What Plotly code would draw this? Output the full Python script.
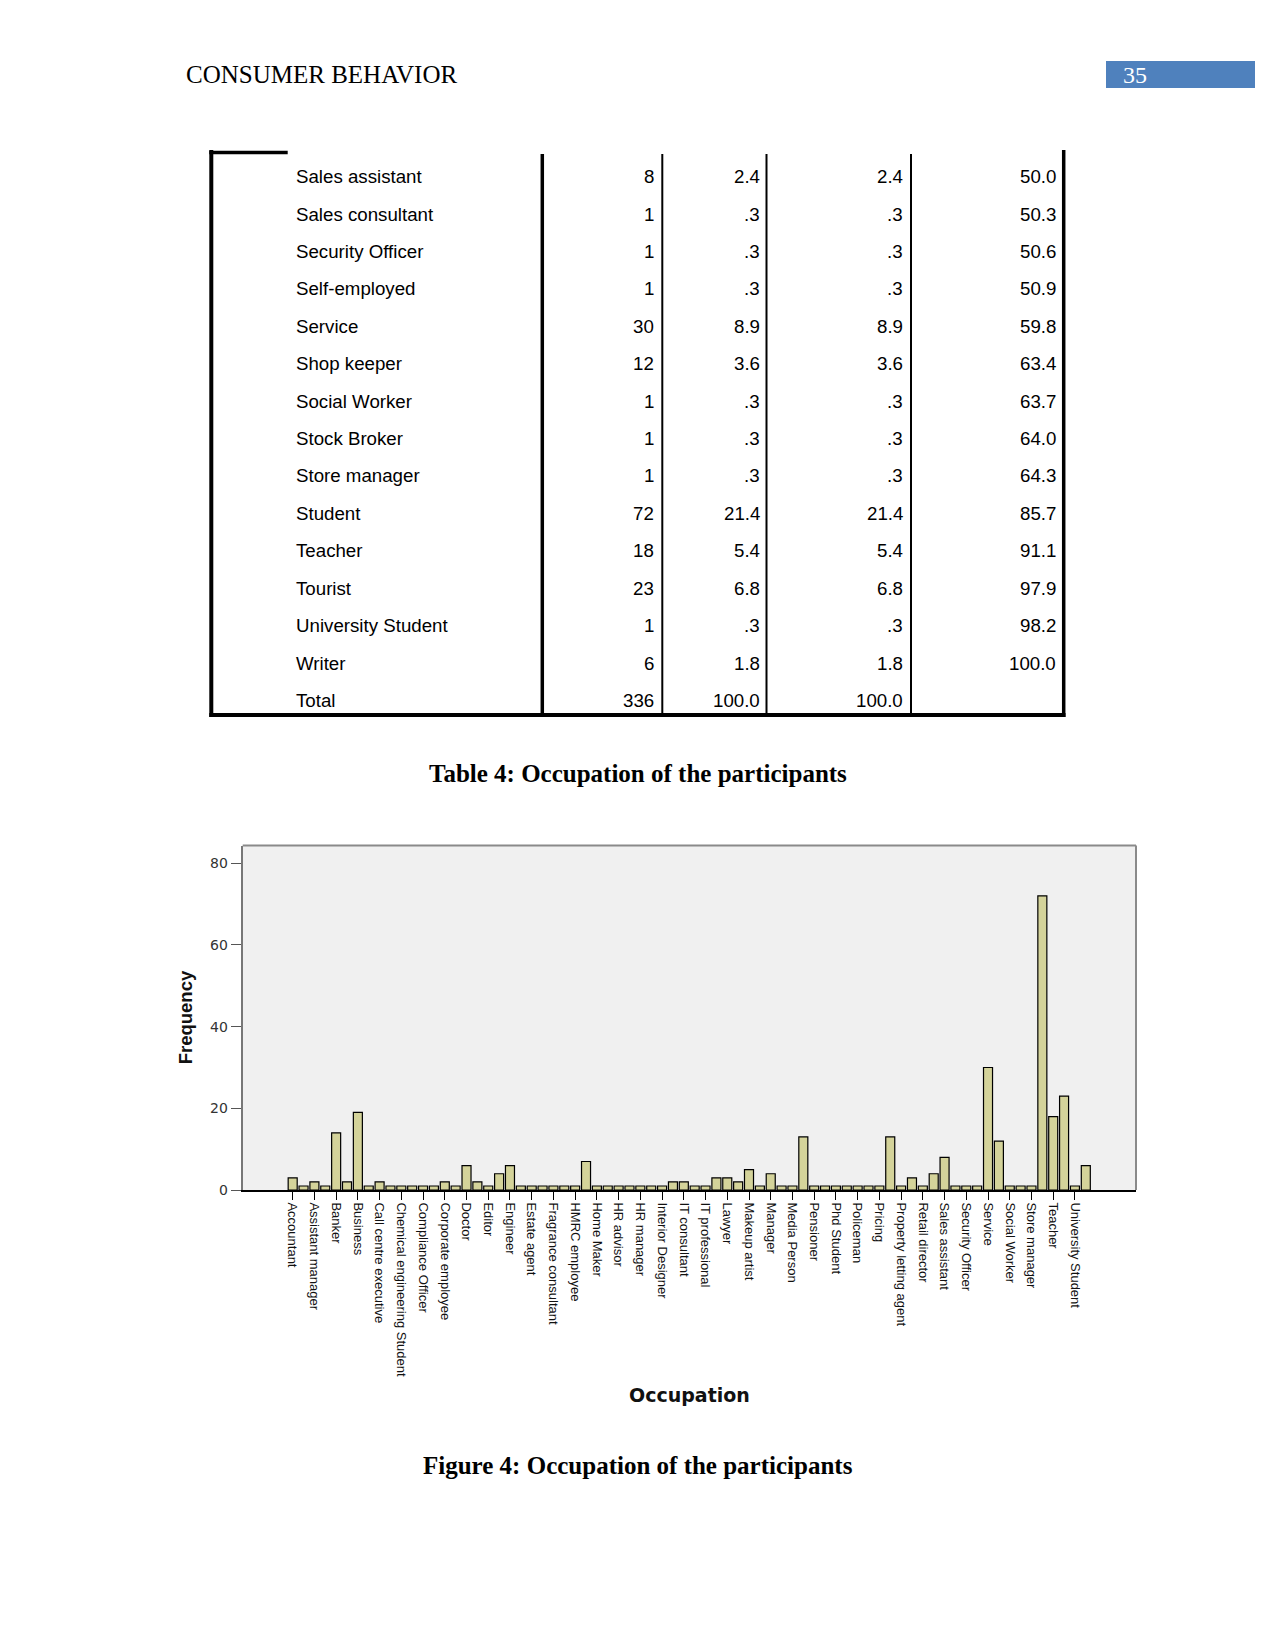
import plotly.graph_objects as go

W, H = 1275, 1650

# ---------------- data ----------------
occupations = [
    "Accountant", "Administrator", "Assistant manager", "Auditor", "Banker",
    "Beautician", "Business", "Cabin crew", "Call centre executive", "Chef",
    "Chemical engineering Student", "Civil servant", "Compliance Officer", "Consultant",
    "Corporate employee", "Designer", "Doctor", "Driver", "Editor", "Electrician",
    "Engineer", "Entrepreneur", "Estate agent", "Finance manager", "Fragrance consultant",
    "Hairdresser", "HMRC employee", "Holiday rep", "Home Maker",
    "Housewife", "HR advisor", "HR assistant", "HR manager", "Insurance agent",
    "Interior Designer", "IT analyst", "IT consultant", "IT engineer", "IT professional",
    "Journalist", "Lawyer", "Lecturer", "Makeup artist", "Management", "Manager",
    "Marketing", "Media Person", "Nurse", "Pensioner", "Pharmacist", "Phd Student",
    "Pilot", "Policeman", "Postman", "Pricing", "Professional", "Property letting agent",
    "Receptionist", "Retail director", "Retired", "Sales assistant", "Sales consultant",
    "Security Officer", "Self-employed", "Service", "Shop keeper", "Social Worker",
    "Stock Broker", "Store manager", "Student", "Teacher", "Tourist",
    "University Student", "Writer",
]
frequency = [
    3, 1, 2, 1, 14, 2, 19, 1, 2, 1,
    1, 1, 1, 1, 2, 1, 6, 2, 1, 4,
    6, 1, 1, 1, 1, 1, 1, 7, 1, 1,
    1, 1, 1, 1, 1, 2, 2, 1, 1, 3,
    3, 2, 5, 1, 4, 1, 1, 13, 1, 1,
    1, 1, 1, 1, 1, 13, 1, 3, 1, 4,
    8, 1, 1, 1, 30, 12, 1, 1, 1, 72,
    18, 23, 1, 6,
]
labelled_occupations = occupations[0::2]
y_ticks = [0, 20, 40, 60, 80]

table_labels = ["Sales assistant", "Sales consultant", "Security Officer", "Self-employed",
                "Service", "Shop keeper", "Social Worker", "Stock Broker", "Store manager",
                "Student", "Teacher", "Tourist", "University Student", "Writer", "Total"]
table_frequency = ["8", "1", "1", "1", "30", "12", "1", "1", "1", "72", "18", "23", "1", "6", "336"]
table_percent = ["2.4", ".3", ".3", ".3", "8.9", "3.6", ".3", ".3", ".3", "21.4", "5.4", "6.8",
                 ".3", "1.8", "100.0"]
table_valid_percent = ["2.4", ".3", ".3", ".3", "8.9", "3.6", ".3", ".3", ".3", "21.4", "5.4",
                       "6.8", ".3", "1.8", "100.0"]
table_cumulative = ["50.0", "50.3", "50.6", "50.9", "59.8", "63.4", "63.7", "64.0", "64.3",
                    "85.7", "91.1", "97.9", "98.2", "100.0", ""]

header_title = "CONSUMER BEHAVIOR"
page_number = "35"
table_caption = "Table 4: Occupation of the participants"
figure_caption = "Figure 4: Occupation of the participants"
x_title = "Occupation"
y_title = "Frequency"

# small vertical correction so the rendered page lines up with the reference
Y_SCALE = 1.0047


# ---------------- helpers ----------------
def px(x):
    return x / W


def py(y):
    return 1 - (y * Y_SCALE) / H


shapes = []
annotations = []


def hline(x0, x1, y, width, color="black"):
    shapes.append(dict(type="line", xref="paper", yref="paper", x0=px(x0), x1=px(x1),
                       y0=py(y), y1=py(y), line=dict(color=color, width=width)))


def vline(x, y0, y1, width, color="black"):
    shapes.append(dict(type="line", xref="paper", yref="paper", x0=px(x), x1=px(x),
                       y0=py(y0), y1=py(y1), line=dict(color=color, width=width)))


def text(x, y, s, size, family="Liberation Sans", color="black", xanchor="left",
         bold=False, angle=0):
    annotations.append(dict(xref="paper", yref="paper", x=px(x), y=py(y),
                            text=f"<b>{s}</b>" if bold else s, showarrow=False,
                            xanchor=xanchor, yanchor="middle", textangle=angle,
                            font=dict(size=size, family=family, color=color)))


# ---------------- header ----------------
text(184, 75, header_title, 25, family="Liberation Serif")
shapes.append(dict(type="rect", xref="paper", yref="paper", x0=px(1106), x1=px(1255),
                   y0=py(61), y1=py(88), fillcolor="#4F81BD", line=dict(width=0)))
text(1121, 75, page_number, 24, family="Liberation Serif", color="white")

# ---------------- table ----------------
t_top, t_bottom = 151, 715
vline(211.3, t_top - 1, t_bottom + 2, 4)
hline(209.3, 287.7, 152.5, 3.5)
vline(1063.7, t_top - 1, t_bottom + 2, 3.5)
hline(209.3, 1065.5, t_bottom, 4)
vline(542.3, 154, t_bottom, 3.5)
vline(662.3, 154, t_bottom, 2)
vline(766.5, 154, t_bottom, 2)
vline(911, 154, t_bottom, 2)

row0, row_step = 176.7, 37.42
for i, lab in enumerate(table_labels):
    yy = row0 + i * row_step
    text(294.3, yy, lab, 18.7)
    text(656, yy, table_frequency[i], 18.7, xanchor="right")
    text(761.5, yy, table_percent[i], 18.7, xanchor="right")
    text(905, yy, table_valid_percent[i], 18.7, xanchor="right")
    if table_cumulative[i]:
        text(1057.5, yy, table_cumulative[i], 18.7, xanchor="right")

text(637.5, 774, table_caption, 25, family="Liberation Serif", xanchor="center", bold=True)

# ---------------- chart ----------------
plot_l, plot_r, plot_t, plot_b = 242.7, 1136, 845.7, 1190.3
shapes.append(dict(type="line", xref="paper", yref="paper", x0=px(plot_l), x1=px(plot_r),
                   y0=py(plot_t), y1=py(plot_t), line=dict(color="#8a8a8a", width=2)))
shapes.append(dict(type="line", xref="paper", yref="paper", x0=px(plot_r), x1=px(plot_r),
                   y0=py(plot_t), y1=py(plot_b), line=dict(color="#8a8a8a", width=2)))

text(185, 1017.5, y_title, 18.5, bold=True, xanchor="center", angle=-90, color="#111")
text(689.3, 1395, x_title, 19, family="DejaVu Sans", bold=True, xanchor="center",
     color="#111")
text(637.5, 1465.5, figure_caption, 25, family="Liberation Serif", xanchor="center",
     bold=True)

fig = go.Figure()
fig.add_trace(go.Bar(
    x=occupations, y=frequency, width=0.83,
    marker=dict(color="#D4D39A", line=dict(color="black", width=1.2)),
    hoverinfo="x+y",
))

fig.update_layout(
    width=W, height=H, autosize=False,
    margin=dict(l=0, r=0, t=0, b=0, pad=0),
    paper_bgcolor="white", plot_bgcolor="#F0F0F0",
    showlegend=False,
    shapes=shapes, annotations=annotations,
    xaxis=dict(
        domain=[px(plot_l), px(plot_r)], type="category",
        range=[-4.6, 77.62], tickmode="array",
        tickvals=labelled_occupations, ticktext=labelled_occupations,
        tickangle=90, ticks="outside", ticklen=8, tickcolor="black", tickwidth=1,
        tickfont=dict(family="Liberation Sans", size=13, color="#111"),
        showline=True, linecolor="black", linewidth=1.5,
        showgrid=False, zeroline=False, fixedrange=True,
    ),
    yaxis=dict(
        domain=[py(plot_b), py(plot_t)], range=[0, 84.3],
        tickmode="array", tickvals=y_ticks, ticktext=[str(v) for v in y_ticks],
        ticks="outside", ticklen=10, tickcolor="#555", tickwidth=1.2,
        tickfont=dict(family="DejaVu Sans", size=14, color="#333"),
        showline=True, linecolor="#777", linewidth=2,
        showgrid=False, zeroline=False, fixedrange=True,
    ),
)

fig.write_html(
    "out.html",
    config={"displayModeBar": False},
    post_script=("document.body.style.margin='0';"
                 "document.body.style.overflow='hidden';"
                 "document.documentElement.style.overflow='hidden';"),
)
